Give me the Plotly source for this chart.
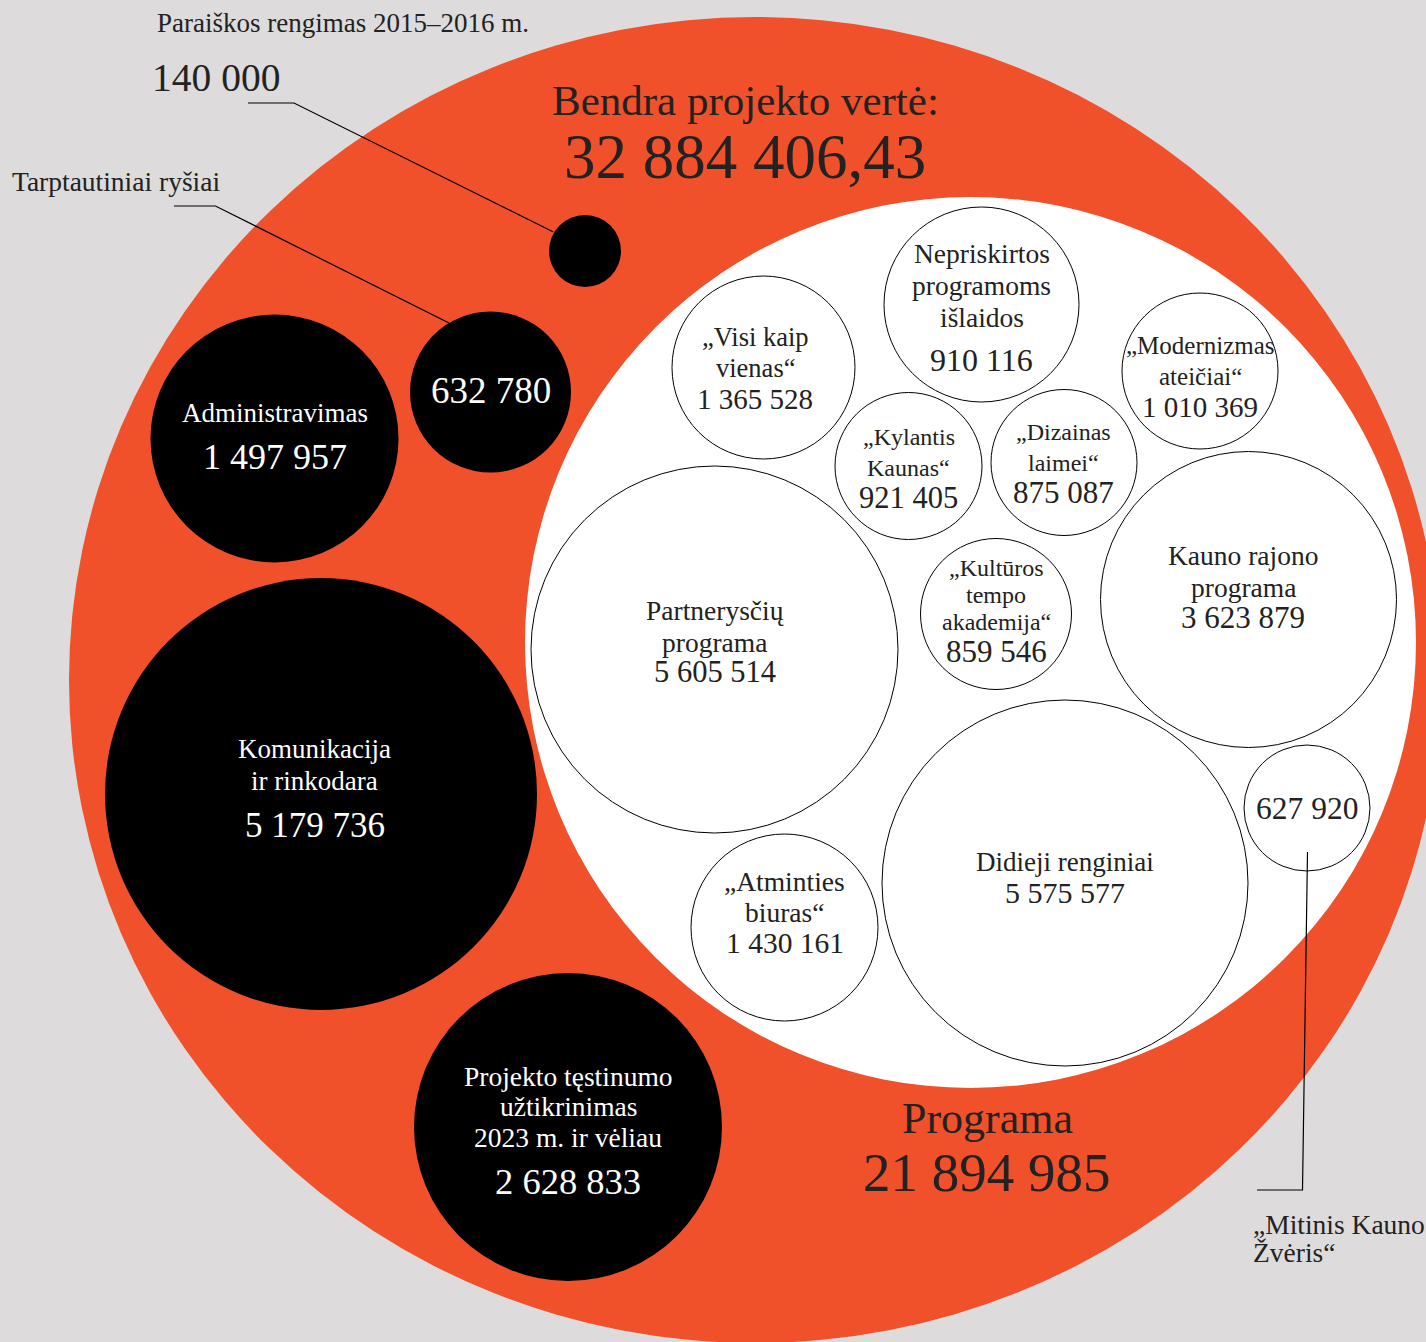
import plotly.graph_objects as go

# ---------------- data ----------------
total_value = 32884406.43
program_value = 21894985

outer_names = ["Paraiškos rengimas 2015–2016 m.", "Tarptautiniai ryšiai", "Administravimas",
               "Komunikacija ir rinkodara", "Projekto tęstinumo užtikrinimas 2023 m. ir vėliau"]
outer_values = [140000, 632780, 1497957, 5179736, 2628833]

program_names = ["„Visi kaip vienas“", "Nepriskirtos programoms išlaidos", "„Modernizmas ateičiai“",
                 "„Kylantis Kaunas“", "„Dizainas laimei“", "„Kultūros tempo akademija“",
                 "Partnerysčių programa", "Kauno rajono programa", "Didieji renginiai",
                 "„Mitinis Kauno Žvėris“", "„Atminties biuras“"]
program_values = [1365528, 910116, 1010369, 921405, 875087, 859546,
                  5605514, 3623879, 5575577, 627920, 1430161]

# ---------------- layout (positions / sizes, pixels) ----------------
W, H = 1426, 1342
BG = "#DDDBDC"
ORANGE = "#F0502A"
INK = "#222222"
FONT = "Liberation Serif"

outer_ellipse = dict(cx=755, cy=680, rx=686, ry=663)
program_circle = dict(cx=970.5, cy=642.5, r=445.5)

# name lines (text, y) ; value y ; font sizes ; lx = label centre x
outer_layout = [
    dict(cx=585, cy=251, r=36, lines=[], vy=None),
    dict(cx=490.5, cy=392, r=80.5, lines=[], vy=390, vs=37),
    dict(cx=274.5, cy=438.5, r=124, lines=[("Administravimas", 413)], vy=457, ns=27, vs=36),
    dict(cx=321, cy=794, r=216, lx=314.5, lines=[("Komunikacija", 749), ("ir rinkodara", 781)],
         vy=825, ns=27, vs=35),
    dict(cx=568, cy=1127, r=154, lines=[("Projekto tęstinumo", 1076), ("užtikrinimas", 1106),
                                        ("2023 m. ir vėliau", 1137)], vy=1181, ns=27.5, vs=36.5),
]

program_layout = [
    dict(cx=763.5, cy=367.5, r=91.5, lx=755, lines=[("„Visi kaip", 337), ("vienas“", 368)],
         vy=399, ns=26.5, vs=29),
    dict(cx=981.5, cy=304.5, r=97.5, lines=[("Nepriskirtos", 253), ("programoms", 285), ("išlaidos", 317)],
         vy=360, ns=27.5, vs=32),
    dict(cx=1200, cy=371, r=78, lines=[("„Modernizmas", 345), ("ateičiai“", 376)], vy=407, ns=25, vs=29),
    dict(cx=908.5, cy=466, r=73.5, lines=[("„Kylantis", 437), ("Kaunas“", 468)], vy=498, ns=24, vs=30.5),
    dict(cx=1064, cy=462.5, r=73, lx=1063, lines=[("„Dizainas", 432), ("laimei“", 463)], vy=492, ns=24, vs=31),
    dict(cx=996, cy=614, r=75.5, lines=[("„Kultūros", 568), ("tempo", 595), ("akademija“", 622)],
         vy=651, ns=24, vs=31),
    dict(cx=714.5, cy=649.5, r=183.5, lines=[("Partnerysčių", 610), ("programa", 642)], vy=672, ns=27.5, vs=30.5),
    dict(cx=1248.5, cy=599.5, r=148, lx=1243, lines=[("Kauno rajono", 555), ("programa", 587)],
         vy=617, ns=27.5, vs=31),
    dict(cx=1065, cy=883, r=183, lines=[("Didieji renginiai", 862)], vy=892, ns=27, vs=30),
    dict(cx=1307, cy=808, r=63, lines=[], vy=808, vs=31.5),
    dict(cx=784.5, cy=927.5, r=93.5, lines=[("„Atminties", 881), ("biuras“", 912)], vy=943, ns=27.5, vs=29.5),
]


def fmt(v):
    if isinstance(v, float) and v != int(v):
        whole, frac = f"{v:,.2f}".split(".")
        return whole.replace(",", " ") + "," + frac
    return f"{int(v):,}".replace(",", " ")


fig = go.Figure()
shapes = []
annotations = []


def ellipse(cx, cy, rx, ry, fill, line_color=None, lw=0):
    shapes.append(dict(type="circle", xref="x", yref="y", x0=cx - rx, x1=cx + rx, y0=cy - ry, y1=cy + ry,
                       fillcolor=fill, line=dict(color=line_color or fill, width=lw), layer="below"))


def text(x, y, s, size, color=INK, xanchor="center"):
    annotations.append(dict(x=x, y=y, xref="x", yref="y", text=s, showarrow=False,
                            xanchor=xanchor, yanchor="middle",
                            font=dict(family=FONT, size=size, color=color)))


# big orange ellipse and white programme circle
ellipse(outer_ellipse["cx"], outer_ellipse["cy"], outer_ellipse["rx"], outer_ellipse["ry"], ORANGE)
ellipse(program_circle["cx"], program_circle["cy"], program_circle["r"], program_circle["r"], "white")

# top-level black circles
for name, val, lay in zip(outer_names, outer_values, outer_layout):
    ellipse(lay["cx"], lay["cy"], lay["r"], lay["r"], "black")
    lx = lay.get("lx", lay["cx"])
    for s, y in lay["lines"]:
        text(lx, y, s, lay["ns"], "white")
    if lay["vy"] is not None:
        text(lx, lay["vy"], fmt(val), lay["vs"], "white")

# programme circles
for name, val, lay in zip(program_names, program_values, program_layout):
    ellipse(lay["cx"], lay["cy"], lay["r"], lay["r"], "white", "black", 1)
    lx = lay.get("lx", lay["cx"])
    for s, y in lay["lines"]:
        text(lx, y, s, lay["ns"])
    text(lx, lay["vy"], fmt(val), lay["vs"])

# headline texts
text(745, 100, "Bendra projekto vertė:", 43)
text(745, 157, fmt(total_value), 63)
text(987, 1118, "Programa", 44)
text(987, 1172, fmt(program_value), 55)

# outside labels
text(155, 23, outer_names[0], 27, xanchor="left")
text(150, 78, fmt(outer_values[0]), 39.5, xanchor="left")
text(10, 181, outer_names[1], 27.5, xanchor="left")
text(1251, 1224, "„Mitinis Kauno", 27.5, xanchor="left")
text(1251, 1252, "Žvėris“", 27.5, xanchor="left")

# leader lines
leaders = [
    [(248, 103), (294, 103), (553.5, 232)],
    [(174, 206), (215.5, 206), (449, 323)],
    [(1307.5, 852), (1302.5, 1190), (1257, 1190)],
]
for pts in leaders:
    fig.add_trace(go.Scatter(x=[p[0] for p in pts], y=[p[1] for p in pts], mode="lines",
                             line=dict(color="black", width=1.2), hoverinfo="skip", showlegend=False))

fig.update_layout(
    width=W, height=H,
    margin=dict(l=0, r=0, t=0, b=0),
    paper_bgcolor=BG, plot_bgcolor=BG,
    shapes=shapes, annotations=annotations,
    xaxis=dict(range=[0, W], visible=False, fixedrange=True),
    yaxis=dict(range=[H, 0], visible=False, fixedrange=True),
    showlegend=False,
)

fig.write_html("out.html", config={"displayModeBar": False},
               post_script="document.body.style.margin='0px';")
